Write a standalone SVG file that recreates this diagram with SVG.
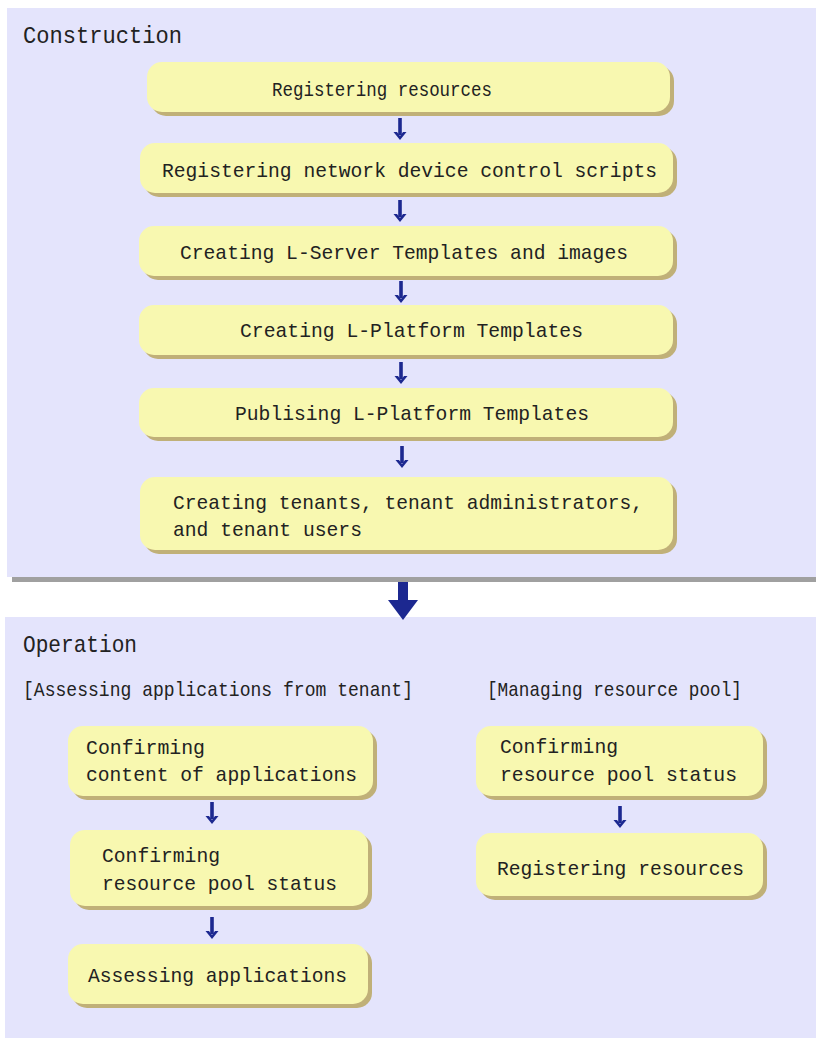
<svg xmlns="http://www.w3.org/2000/svg" width="816" height="1041" viewBox="0 0 816 1041">
<defs>
<style>
.panel{fill:#e4e4fc}
.box{fill:#f8f8b0}
.sh{fill:#c0b078}
.t{font-family:"Liberation Mono","DejaVu Sans Mono",monospace;font-size:21px;fill:#222}
.h{font-family:"Liberation Mono","DejaVu Sans Mono",monospace;font-size:24px;fill:#222}
.a{fill:#1c2890}
</style>
<g id="sarrow"><rect x="-1.8" y="0" width="3.6" height="17" class="a"/><path d="M-6.5,14 L0,22 L6.5,14 L3,14 L0,18 L-3,14 Z" class="a"/></g>
</defs>
<rect width="816" height="1041" fill="#ffffff"/>
<g id="construction">
<rect x="12" y="577" width="804" height="5" fill="#a0a0a0"/>
<rect x="7" y="8" width="809" height="569" class="panel"/>
<text class="h" x="23" y="43" textLength="159" lengthAdjust="spacingAndGlyphs">Construction</text>
</g>
<g id="operation">
<rect x="5" y="617" width="811" height="421" class="panel"/>
<text class="h" x="23" y="652" textLength="114" lengthAdjust="spacingAndGlyphs">Operation</text>
<text class="t" x="23" y="696" textLength="390" lengthAdjust="spacingAndGlyphs">[Assessing applications from tenant]</text>
<text class="t" x="487" y="696" textLength="255" lengthAdjust="spacingAndGlyphs">[Managing resource pool]</text>
</g>
<g id="n1"><rect x="151" y="66" width="523" height="50" rx="15" class="sh"/><rect x="147" y="62" width="523" height="50" rx="15" class="box"/>
<text class="t" x="272" y="96" textLength="220" lengthAdjust="spacingAndGlyphs">Registering resources</text></g>
<g id="n2"><rect x="144" y="147" width="533" height="50" rx="15" class="sh"/><rect x="140" y="143" width="533" height="50" rx="15" class="box"/>
<text class="t" x="162" y="177" textLength="495" lengthAdjust="spacingAndGlyphs">Registering network device control scripts</text></g>
<g id="n3"><rect x="143" y="230" width="534" height="50" rx="15" class="sh"/><rect x="139" y="226" width="534" height="50" rx="15" class="box"/>
<text class="t" x="180" y="259" textLength="448" lengthAdjust="spacingAndGlyphs">Creating L-Server Templates and images</text></g>
<g id="n4"><rect x="143" y="309" width="534" height="50" rx="15" class="sh"/><rect x="139" y="305" width="534" height="50" rx="15" class="box"/>
<text class="t" x="240" y="337" textLength="343" lengthAdjust="spacingAndGlyphs">Creating L-Platform Templates</text></g>
<g id="n5"><rect x="143" y="392" width="534" height="49" rx="15" class="sh"/><rect x="139" y="388" width="534" height="49" rx="15" class="box"/>
<text class="t" x="235" y="420" textLength="354" lengthAdjust="spacingAndGlyphs">Publising L-Platform Templates</text></g>
<g id="n6"><rect x="144" y="481" width="533" height="73" rx="15" class="sh"/><rect x="140" y="477" width="533" height="73" rx="15" class="box"/>
<text class="t" x="173" y="509" textLength="470" lengthAdjust="spacingAndGlyphs">Creating tenants, tenant administrators,</text>
<text class="t" x="173" y="536" textLength="189" lengthAdjust="spacingAndGlyphs">and tenant users</text></g>
<g id="n7"><rect x="72" y="730" width="305" height="70" rx="15" class="sh"/><rect x="68" y="726" width="305" height="70" rx="15" class="box"/>
<text class="t" x="86" y="754" textLength="119" lengthAdjust="spacingAndGlyphs">Confirming</text>
<text class="t" x="86" y="781" textLength="271" lengthAdjust="spacingAndGlyphs">content of applications</text></g>
<g id="n8"><rect x="74" y="834" width="298" height="76" rx="15" class="sh"/><rect x="70" y="830" width="298" height="76" rx="15" class="box"/>
<text class="t" x="102" y="862" textLength="118" lengthAdjust="spacingAndGlyphs">Confirming</text>
<text class="t" x="102" y="890" textLength="235" lengthAdjust="spacingAndGlyphs">resource pool status</text></g>
<g id="n9"><rect x="72" y="948" width="300" height="60" rx="15" class="sh"/><rect x="68" y="944" width="300" height="60" rx="15" class="box"/>
<text class="t" x="88" y="982" textLength="259" lengthAdjust="spacingAndGlyphs">Assessing applications</text></g>
<g id="n10"><rect x="480" y="730" width="287" height="70" rx="15" class="sh"/><rect x="476" y="726" width="287" height="70" rx="15" class="box"/>
<text class="t" x="500" y="753" textLength="118" lengthAdjust="spacingAndGlyphs">Confirming</text>
<text class="t" x="500" y="781" textLength="237" lengthAdjust="spacingAndGlyphs">resource pool status</text></g>
<g id="n11"><rect x="480" y="837" width="287" height="63" rx="15" class="sh"/><rect x="476" y="833" width="287" height="63" rx="15" class="box"/>
<text class="t" x="497" y="875" textLength="247" lengthAdjust="spacingAndGlyphs">Registering resources</text></g>
<g id="connectors">
<use href="#sarrow" x="400" y="118"/>
<use href="#sarrow" x="400" y="200"/>
<use href="#sarrow" x="401" y="281"/>
<use href="#sarrow" x="401" y="362"/>
<use href="#sarrow" x="402" y="446"/>
<use href="#sarrow" x="212" y="802"/>
<use href="#sarrow" x="212" y="917"/>
<use href="#sarrow" x="620" y="806"/>
<path d="M398,582 L408,582 L408,600 L418,600 L403,620 L388,600 L398,600 Z" class="a"/>
</g>
</svg>
